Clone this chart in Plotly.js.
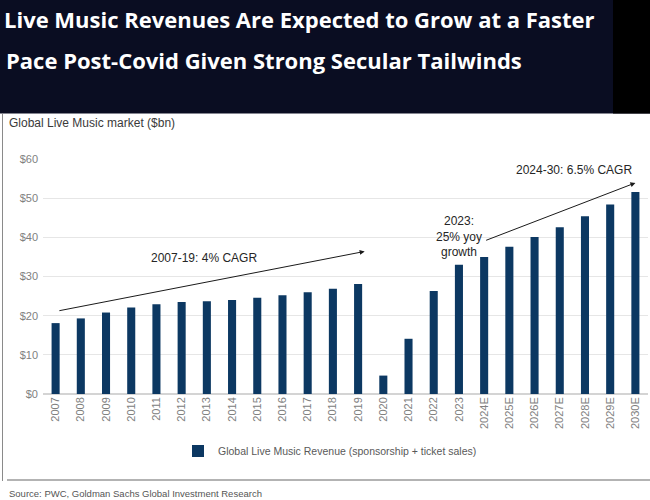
<!DOCTYPE html>
<html>
<head>
<meta charset="utf-8">
<script src="https://cdn.plot.ly/plotly-3.0.1.min.js"></script>
<style>html,body{margin:0;padding:0;background:#fff;}#chart{width:650px;height:500px;}</style>
</head>
<body>
<div id="chart"></div>
<script>
const years = ["2007","2008","2009","2010","2011","2012","2013","2014","2015","2016","2017","2018","2019","2020","2021","2022","2023","2024E","2025E","2026E","2027E","2028E","2029E","2030E"];
const revenue = [18.1,19.3,20.8,22.1,22.9,23.5,23.7,24.0,24.6,25.2,26.0,26.9,28.1,4.7,14.1,26.3,33.0,35.0,37.6,40.1,42.6,45.4,48.4,51.6];
const seriesName = "Global Live Music Revenue (sponsorship + ticket sales)";
const titleLine1 = "Live Music Revenues Are Expected to Grow at a Faster";
const titleLine2 = "Pace Post-Covid Given Strong Secular Tailwinds";
const subtitle = "Global Live Music market ($bn)";
const source = "Source: PWC, Goldman Sachs Global Investment Research";
const yTicks = [0,10,20,30,40,50,60];
const yTickText = ["$0","$10","$20","$30","$40","$50","$60"];

// plot area geometry (px) used to place paper-referenced decorations
const L = 43, T = 159, W = 605, H = 235;
const px = x => (x - L) / W;
const py = y => (T + H - y) / H;

const trace = {
  type: "bar",
  x: years,
  y: revenue,
  name: seriesName,
  marker: {color: "#0c3862"},
  hoverinfo: "x+y"
};

const annFont = {family: "Liberation Sans, Arial, sans-serif", size: 12, color: "#262626"};
const titleFont = {family: "Open Sans, sans-serif", size: 22, color: "#ffffff", weight: "bold"};

const layout = {
  width: 650, height: 500,
  margin: {l: L, r: 650 - L - W, t: T, b: 500 - T - H},
  paper_bgcolor: "#ffffff",
  plot_bgcolor: "#ffffff",
  bargap: 0.68,
  showlegend: true,
  title: {
    text: titleLine1,
    font: titleFont,
    x: 4/650, xanchor: "left", xref: "container",
    y: 1 - 20/500, yanchor: "middle", yref: "container"
  },
  legend: {
    orientation: "h",
    x: px(178), xanchor: "left",
    y: py(451), yanchor: "middle",
    font: {family: "Liberation Sans, Arial, sans-serif", size: 10.5, color: "#595959"},
    bgcolor: "rgba(0,0,0,0)"
  },
  xaxis: {
    type: "category",
    tickangle: -90,
    tickfont: {family: "Liberation Sans, Arial, sans-serif", size: 11, color: "#808080"},
    showgrid: false,
    showline: false,
    ticks: "",
    fixedrange: true
  },
  yaxis: {
    range: [0, 60],
    tickmode: "array",
    tickvals: yTicks,
    ticktext: yTickText,
    tickfont: {family: "Liberation Sans, Arial, sans-serif", size: 11, color: "#808080"},
    showgrid: true,
    gridcolor: "#e6e6e6",
    zeroline: true,
    zerolinecolor: "#d4d4d4",
    zerolinewidth: 1.5,
    ticks: "",
    ticklabelstandoff: 4,
    fixedrange: true
  },
  shapes: [
    {type: "rect", xref: "paper", yref: "paper", x0: px(-5), x1: px(655), y0: py(113.5), y1: py(-5), fillcolor: "#0a0d22", line: {width: 0}, layer: "below"},
    {type: "rect", xref: "paper", yref: "paper", x0: px(613), x1: px(655), y0: py(113.5), y1: py(-5), fillcolor: "#000000", line: {width: 0}, layer: "below"},
    {type: "line", xref: "paper", yref: "paper", x0: px(2.5), x1: px(2.5), y0: py(114), y1: py(481), line: {color: "#8a8a8a", width: 1}},
    {type: "line", xref: "paper", yref: "paper", x0: px(7), x1: px(650), y0: py(480), y1: py(480), line: {color: "#9a9a9a", width: 1.5}}
  ],
  annotations: [
    {text: titleLine2, xref: "paper", yref: "paper", x: px(4), y: py(60), xanchor: "left", yanchor: "middle", showarrow: false,
     font: titleFont},
    {text: subtitle, xref: "paper", yref: "paper", x: px(7), y: py(123), xanchor: "left", yanchor: "middle", showarrow: false,
     font: {family: "Liberation Sans, Arial, sans-serif", size: 12, color: "#3a3a3a"}},
    {text: source, xref: "paper", yref: "paper", x: px(7), y: py(493), xanchor: "left", yanchor: "middle", showarrow: false,
     font: {family: "Liberation Sans, Arial, sans-serif", size: 9.5, color: "#555555"}},
    // 2007-19 arrow
    {x: 12.26, y: 36.4, ax: 0.09, ay: 21.2, xref: "x", yref: "y", axref: "x", ayref: "y", text: "", showarrow: true,
     arrowhead: 2, arrowsize: 1, arrowwidth: 1, arrowcolor: "#1a1a1a"},
    {x: 5.9, y: 34.8, xref: "x", yref: "y", text: "2007-19: 4% CAGR", showarrow: false, font: annFont},
    // 2024-30 arrow
    {x: 23.0, y: 53.9, ax: 17.02, ay: 39.1, xref: "x", yref: "y", axref: "x", ayref: "y", text: "", showarrow: true,
     arrowhead: 2, arrowsize: 1, arrowwidth: 1, arrowcolor: "#1a1a1a"},
    {x: 20.55, y: 57.1, xref: "x", yref: "y", text: "2024-30: 6.5% CAGR", showarrow: false, font: annFont},
    {x: 16.0, y: 40.2, xref: "x", yref: "y", text: "2023:<br>25% yoy<br>growth", showarrow: false, font: annFont}
  ]
};

Plotly.newPlot("chart", [trace], layout, {displayModeBar: false, staticPlot: true});
</script>
</body>
</html>
